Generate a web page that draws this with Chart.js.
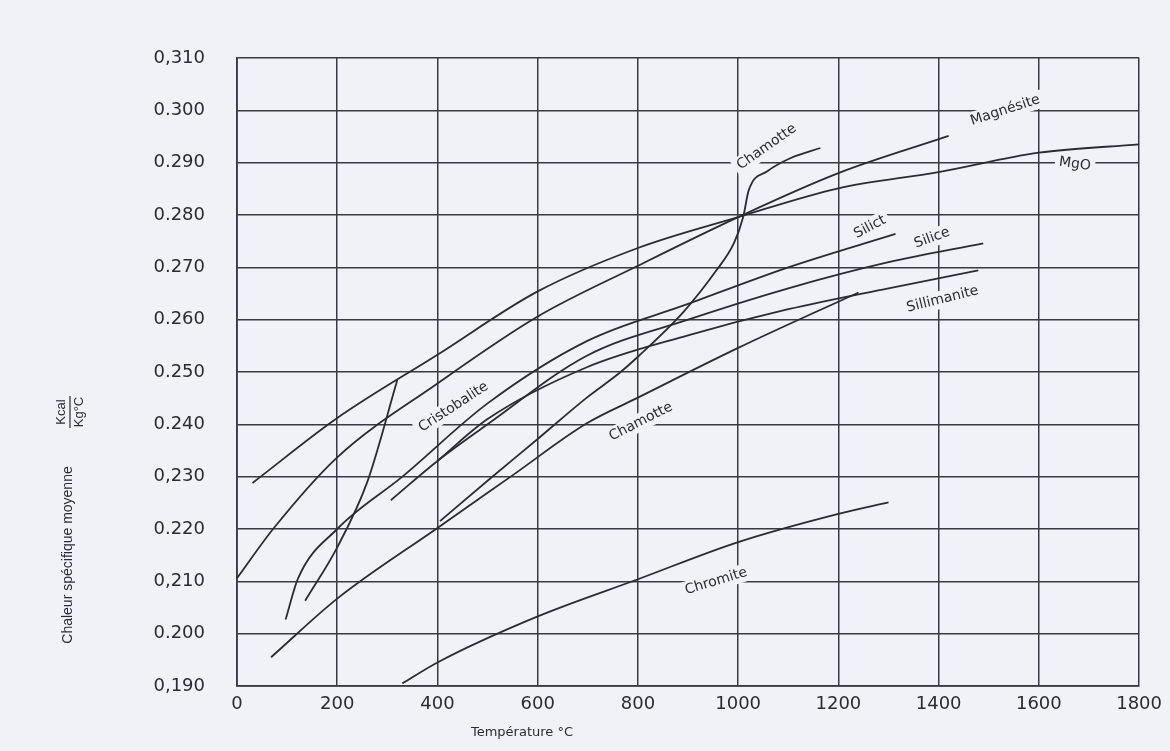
<!DOCTYPE html>
<html><head><meta charset="utf-8">
<script src="https://cdn.jsdelivr.net/npm/chart.js@4.4.1/dist/chart.umd.min.js"></script>
<style>html,body{margin:0;padding:0;background:#f1f1f8;}#wrap{width:1170px;height:751px;}</style>
</head><body><div id="wrap"><canvas id="c" width="1170" height="751"></canvas></div>
<script>
// ---- data (temperature °C, mean specific heat kcal/kg°C) ----
const xTickValues = [0,200,400,600,800,1000,1200,1400,1600,1800];
const yTickLabels = ['0,190','0.200','0,210','0.220','0,230','0.240','0.250','0.260','0.270','0.280','0.290','0.300','0,310'];

const mgoT = [31,200,400,600,800,1000,1200,1400,1600,1800];
const mgoC = [0.2288,0.2412,0.2533,0.2654,0.2737,0.2796,0.2851,0.2882,0.2919,0.2935];

const magnesiteT = [0,72,200,400,600,800,1000,1200,1420];
const magnesiteC = [0.2106,0.2200,0.2337,0.2478,0.2606,0.2703,0.2796,0.2880,0.2951];

const chamotteST = [405,507,600,698,763,802,891,954,992,1010,1021,1059,1105,1164];
const chamotteSC = [0.2215,0.2298,0.2372,0.2451,0.2498,0.2531,0.2615,0.2691,0.2747,0.2796,0.2847,0.2884,0.2909,0.2928];

const chamotteT = [68,200,400,549,698,800,1000,1240];
const chamotteC = [0.1955,0.2067,0.2202,0.2302,0.2402,0.2451,0.2546,0.2652];

const silice1T = [97,122,200,330,500,698,900,1100,1314];
const silice1C = [0.2027,0.2106,0.2200,0.2300,0.2440,0.2559,0.2630,0.2700,0.2764];

const silice2T = [307,400,500,698,900,1100,1300,1489];
const silice2C = [0.2255,0.2330,0.2400,0.2531,0.2600,0.2660,0.2710,0.2746];

const sillimaniteT = [400,500,698,900,1100,1300,1479];
const sillimaniteC = [0.2330,0.2410,0.2509,0.2570,0.2620,0.2660,0.2694];

const cristobaliteT = [136,200,260,320];
const cristobaliteC = [0.2063,0.2165,0.2290,0.2485];

const chromiteT = [330,400,600,800,1000,1200,1300];
const chromiteC = [0.1905,0.1945,0.2033,0.2104,0.2175,0.2229,0.2251];

// curve labels: text, temperature, value, angle (deg)
const labelText = ['Chamotte','Magnésite','MgO','Silict','Silice','Sillimanite','Cristobalite','Chamotte','Chromite'];
const labelT    = [1057,1533,1672,1263,1387,1408,432,806,956];
const labelC    = [0.2930,0.3000,0.2897,0.2777,0.2756,0.2639,0.2433,0.2405,0.2100];
const labelAng  = [-35,-18,8,-28,-20,-14,-33,-27,-17];

const INK = '#2b2b36';
const BG = '#f1f1f8';

function pts(t,c){return t.map((v,i)=>({x:v,y:c[i]}));}
function ds(t,c){return {data:pts(t,c),borderColor:INK,borderWidth:1.8,pointRadius:0,showLine:true,fill:false,cubicInterpolationMode:'monotone',clip:false};}

const curves = [
  ds(mgoT,mgoC), ds(magnesiteT,magnesiteC), ds(chamotteST,chamotteSC), ds(chamotteT,chamotteC),
  ds(silice1T,silice1C), ds(silice2T,silice2C), ds(sillimaniteT,sillimaniteC),
  ds(cristobaliteT,cristobaliteC), ds(chromiteT,chromiteC)
];

const textPlugin = {
  id:'texts',
  afterDatasetsDraw(chart){
    const {ctx,scales:{x,y}} = chart;
    ctx.save();
    ctx.fillStyle = INK;
    ctx.textAlign='center'; ctx.textBaseline='middle';
    ctx.font = '14px "DejaVu Sans"';
    labelText.forEach((s,i)=>{
      const px = x.getPixelForValue(labelT[i]), py = y.getPixelForValue(labelC[i]);
      ctx.save();
      ctx.translate(px,py); ctx.rotate(labelAng[i]*Math.PI/180);
      const w = ctx.measureText(s).width;
      ctx.fillStyle = BG; ctx.fillRect(-w/2-4,-9,w+8,18);
      ctx.fillStyle = INK; ctx.fillText(s,0,0);
      ctx.restore();
    });
    ctx.restore();
  },
  afterDraw(chart){
    const ctx = chart.ctx;
    ctx.save();
    ctx.fillStyle = INK;
    ctx.textAlign='center'; ctx.textBaseline='middle';
    ctx.font = '13px "DejaVu Sans"';
    ctx.fillText('Température °C', 522, 733);
    ctx.translate(68,555); ctx.rotate(-Math.PI/2);
    ctx.font = '14px "Liberation Sans"';
    ctx.fillText('Chaleur spécifique moyenne',0,0);
    ctx.restore();
    ctx.save();
    ctx.fillStyle = INK; ctx.strokeStyle = INK;
    ctx.translate(70,412); ctx.rotate(-Math.PI/2);
    ctx.textAlign='center'; ctx.textBaseline='middle';
    ctx.font = '13px "Liberation Sans"';
    ctx.fillText('Kcal',0,-9);
    ctx.fillText('Kg°C',0,9);
    ctx.lineWidth=1.2;
    ctx.beginPath(); ctx.moveTo(-16,0); ctx.lineTo(16,0); ctx.stroke();
    ctx.restore();
  }
};

new Chart(document.getElementById('c'),{
  type:'scatter',
  data:{datasets:curves},
  plugins:[textPlugin],
  options:{
    responsive:false, animation:false,
    layout:{padding:{top:58,right:24,left:0,bottom:0}},
    plugins:{legend:{display:false},tooltip:{enabled:false}},
    scales:{
      x:{type:'linear',min:0,max:1800,
        afterBuildTicks(s){s.ticks = xTickValues.map(v=>({value:v}));},
        afterFit(s){s.height = 65;},
        ticks:{color:INK,font:{family:'"DejaVu Sans"',size:18},padding:8,maxRotation:0,autoSkip:false,
          callback:(v,i)=>String(xTickValues[i])},
        grid:{color:'#3a3a46',lineWidth:1.5,drawTicks:false},
        border:{color:'#3a3a46',width:1.8}},
      y:{type:'linear',min:0.19,max:0.31,
        afterBuildTicks(s){s.ticks = yTickLabels.map((l,i)=>({value:0.19+i*0.01}));},
        afterFit(s){s.width = 237;},
        ticks:{color:INK,font:{family:'"DejaVu Sans"',size:18},padding:32,autoSkip:false,
          callback:(v,i)=>yTickLabels[i]},
        grid:{color:'#3a3a46',lineWidth:1.5,drawTicks:false},
        border:{color:'#3a3a46',width:1.8}}
    }
  }
});
</script></body></html>
